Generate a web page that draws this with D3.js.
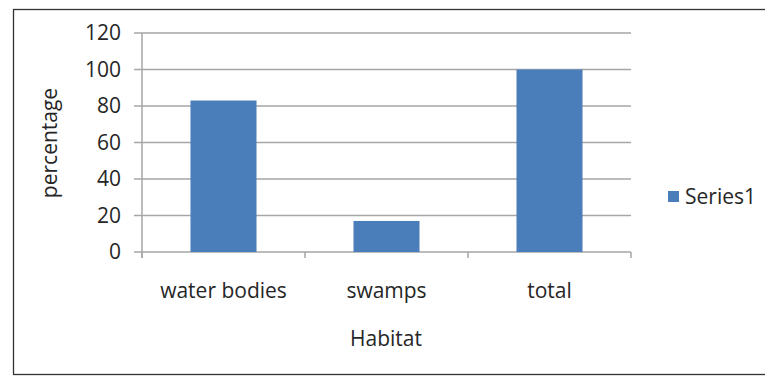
<!DOCTYPE html>
<html>
<head>
<meta charset="utf-8">
<script src="https://cdn.jsdelivr.net/npm/d3@7"></script>
<style>
  html, body { margin: 0; padding: 0; background: #fff; }
  svg { display: block; }
  text { font-family: "Open Sans", "Noto Sans", sans-serif; fill: #262626; }
</style>
</head>
<body>
<svg id="chart" width="765" height="383"></svg>
<script>
// Habitat categories and their percentages
const categories = ["water bodies", "swamps", "total"];
const values = [83, 17, 100];
const yTicks = [0, 20, 40, 60, 80, 100, 120];
const seriesName = "Series1";
const xTitle = "Habitat";
const yTitle = "percentage";

const svg = d3.select("#chart");
const W = 765, H = 383;
const plot = { left: 142, right: 631, top: 33, bottom: 252 };
const barColor = "#4a7ebb";
const gridColor = "#a6a6a6";
const fontSize = 21;

// outer chart frame
svg.append("rect")
  .attr("x", 13.5).attr("y", 9.5)
  .attr("width", W).attr("height", 365)
  .attr("fill", "none").attr("stroke", "#333").attr("stroke-width", 1.3);

const x = d3.scaleBand().domain(categories).range([plot.left, plot.right]).padding(0);
const y = d3.scaleLinear().domain([0, 120]).range([plot.bottom, plot.top]);

// horizontal gridlines
svg.append("g").selectAll("line").data(yTicks).join("line")
  .attr("x1", plot.left - 8).attr("x2", plot.right)
  .attr("y1", d => y(d)).attr("y2", d => y(d))
  .attr("stroke", gridColor).attr("stroke-width", 1.5);

// y axis line
svg.append("line")
  .attr("x1", plot.left).attr("x2", plot.left)
  .attr("y1", plot.top).attr("y2", plot.bottom + 6)
  .attr("stroke", gridColor).attr("stroke-width", 1.5);

// x axis tick marks at category boundaries
const bounds = categories.map(c => x(c)).concat([plot.right]);
svg.append("g").selectAll("line").data(bounds).join("line")
  .attr("x1", d => d).attr("x2", d => d)
  .attr("y1", plot.bottom).attr("y2", plot.bottom + 6)
  .attr("stroke", gridColor).attr("stroke-width", 1.5);

// y tick labels
svg.append("g").selectAll("text").data(yTicks).join("text")
  .attr("x", 121).attr("y", d => y(d))
  .attr("dy", "0.35em").attr("text-anchor", "end")
  .attr("font-size", fontSize)
  .text(d => d);

// bars
const barFrac = 0.405;
svg.append("g").selectAll("rect").data(values).join("rect")
  .attr("x", (d, i) => x(categories[i]) + x.bandwidth() * (1 - barFrac) / 2)
  .attr("width", x.bandwidth() * barFrac)
  .attr("y", d => y(d))
  .attr("height", d => y(0) - y(d))
  .attr("fill", barColor);

// category labels
svg.append("g").selectAll("text").data(categories).join("text")
  .attr("x", d => x(d) + x.bandwidth() / 2).attr("y", 298)
  .attr("text-anchor", "middle").attr("font-size", fontSize)
  .text(d => d);

// axis titles
svg.append("text")
  .attr("x", 386).attr("y", 346)
  .attr("text-anchor", "middle").attr("font-size", fontSize)
  .text(xTitle);

svg.append("text")
  .attr("transform", "translate(57,143) rotate(-90)")
  .attr("text-anchor", "middle").attr("font-size", fontSize)
  .text(yTitle);

// legend
const lg = svg.append("g").attr("transform", "translate(668,191)");
lg.append("rect").attr("width", 11).attr("height", 11).attr("fill", barColor);
lg.append("text").attr("x", 17).attr("y", 5.5).attr("dy", "0.35em")
  .attr("font-size", fontSize).text(seriesName);
</script>
</body>
</html>
